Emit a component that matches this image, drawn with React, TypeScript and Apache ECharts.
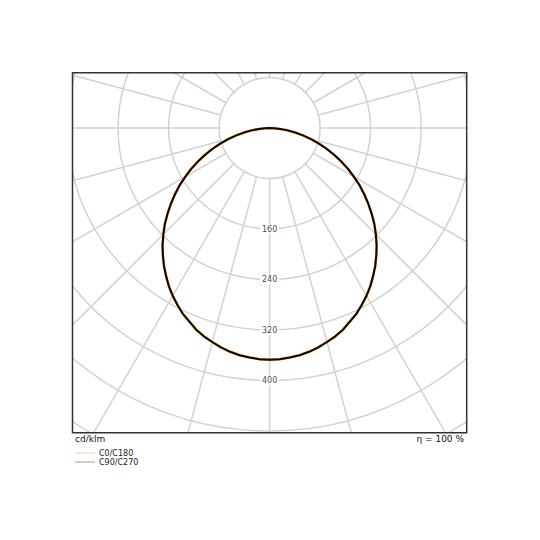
import React, { useEffect, useRef } from "react";
import * as echarts from "echarts";

// gamma angles (deg from nadir) and luminous intensity (cd/klm)
const gammaAngles = [
  0, 2.5, 5, 7.5, 10, 12.5, 15, 17.5, 20, 22.5, 25, 27.5, 30, 32.5, 35, 37.5, 40, 42.5, 45,
  47.5, 50, 52.5, 55, 57.5, 60, 62.5, 65, 67.5, 70, 72.5, 75, 77.5, 80, 82.5, 85, 87.5, 90,
];
const c0c180 = [
  367, 366.6, 365, 363, 360, 356, 351, 346, 340, 332, 325, 316, 307, 297, 286, 275, 263, 251, 238,
  225, 211, 197, 183, 169, 154, 140, 125, 110, 96, 82, 68, 54, 41, 29, 17, 7, 0,
];
const c90c270 = [
  367, 366.6, 365, 363, 360, 356, 351, 346, 340, 332, 325, 316, 307, 297, 286, 275, 263, 251, 238,
  225, 211, 197, 183, 169, 154, 140, 125, 110, 96, 82, 68, 54, 41, 29, 17, 7, 0,
];
const radiusTickLabels = [160, 240, 320, 400];
const radialAngles = [0, 15, 30, 45, 60, 75, 90, 105, 120, 135, 150, 165, 180, 195, 210, 225, 240, 255, 270, 285, 300, 315, 330, 345];
const unitLabel = "cd/klm";
const efficiencyLabel = "η = 100 %";
const seriesNames = ["C0/C180", "C90/C270"];

const FONT = "DejaVu Sans";
const BOX = { x: 72.5, y: 72.7, w: 394.2, h: 360 };

function loop(values: number[]) {
  const right = gammaAngles.map((g, i) => [values[i], g]).reverse();
  const left = gammaAngles.slice(1).map((g, i) => [values[i + 1], 360 - g]);
  return [...right, ...left];
}

export default function App() {
  const ref = useRef<HTMLDivElement>(null);
  useEffect(() => {
    if (!ref.current) return;
    const chart = echarts.init(ref.current, null, { renderer: "svg" });
    const radialSeries = radialAngles.map((a) => ({
      type: "line",
      coordinateSystem: "polar",
      data: [
        [80, a],
        [640, a],
      ],
      symbol: "none",
      silent: true,
      z: 1,
      lineStyle: { color: "#d2d2d2", width: 1.5 },
    }));
    chart.setOption({
      animation: false,
      backgroundColor: "#fff",
      polar: { center: [269.6, 128], radius: 404 },
      angleAxis: {
        type: "value",
        min: 0,
        max: 360,
        startAngle: 270,
        clockwise: true,
        axisLine: { show: false },
        axisTick: { show: false },
        axisLabel: { show: false },
        splitLine: { show: false },
      },
      radiusAxis: {
        type: "value",
        min: 0,
        max: 640,
        interval: 80,
        axisLine: { show: false },
        axisTick: { show: false },
        axisLabel: { show: false },
        splitLine: { show: true, lineStyle: { color: "#d2d2d2", width: 1.5 } },
      },
      legend: {
        orient: "vertical",
        left: 75,
        top: 449,
        padding: 0,
        itemGap: 1,
        itemWidth: 20,
        itemHeight: 1,
        icon: "rect",
        z: 200,
        textStyle: { fontSize: 8, color: "#222", fontFamily: FONT, padding: [0, 0, 0, -1] },
        data: [
          { name: seriesNames[0], itemStyle: { color: "#f9cf94" } },
          { name: seriesNames[1], itemStyle: { color: "#9a9a9a" } },
        ],
      },
      graphic: [
        { type: "rect", z: 100, shape: { x: 0, y: 0, width: 540, height: BOX.y }, style: { fill: "#fff" } },
        { type: "rect", z: 100, shape: { x: 0, y: BOX.y + BOX.h, width: 540, height: 540 - BOX.y - BOX.h }, style: { fill: "#fff" } },
        { type: "rect", z: 100, shape: { x: 0, y: 0, width: BOX.x, height: 540 }, style: { fill: "#fff" } },
        { type: "rect", z: 100, shape: { x: BOX.x + BOX.w, y: 0, width: 540 - BOX.x - BOX.w, height: 540 }, style: { fill: "#fff" } },
        {
          type: "rect",
          z: 101,
          shape: { x: BOX.x, y: BOX.y, width: BOX.w, height: BOX.h },
          style: { fill: "none", stroke: "#333", lineWidth: 1.5 },
        },
        {
          type: "text",
          z: 101,
          x: 75,
          y: 439,
          style: { text: unitLabel, fontSize: 9, fill: "#111", fontFamily: FONT, verticalAlign: "middle", align: "left" },
        },
        {
          type: "text",
          z: 101,
          x: 464,
          y: 439,
          style: { text: efficiencyLabel, fontSize: 9, fill: "#111", fontFamily: FONT, verticalAlign: "middle", align: "right" },
        },
      ],
      series: [
        ...radialSeries,
        {
          name: seriesNames[0],
          type: "line",
          coordinateSystem: "polar",
          data: loop(c0c180),
          symbol: "none",
          smooth: false,
          z: 3,
          itemStyle: { color: "#f9cf94" },
          lineStyle: { color: "#e89a3c", width: 2.6 },
        },
        {
          name: seriesNames[1],
          type: "line",
          coordinateSystem: "polar",
          data: loop(c90c270),
          symbol: "none",
          smooth: false,
          z: 4,
          itemStyle: { color: "#9a9a9a" },
          lineStyle: { color: "#120800", width: 2 },
        },
        {
          type: "scatter",
          coordinateSystem: "polar",
          data: radiusTickLabels.map((v) => [v, 0]),
          symbolSize: 0,
          silent: true,
          z: 5,
          label: {
            show: true,
            position: "inside",
            formatter: (p: any) => String(p.value[0]),
            fontSize: 8,
            color: "#111",
            fontFamily: FONT,
            backgroundColor: "#fff",
            padding: [1, 2],
          },
        },
      ],
    });
    return () => chart.dispose();
  }, []);
  return <div ref={ref} style={{ position: "absolute", left: 0, top: 0, width: 540, height: 540 }} />;
}
